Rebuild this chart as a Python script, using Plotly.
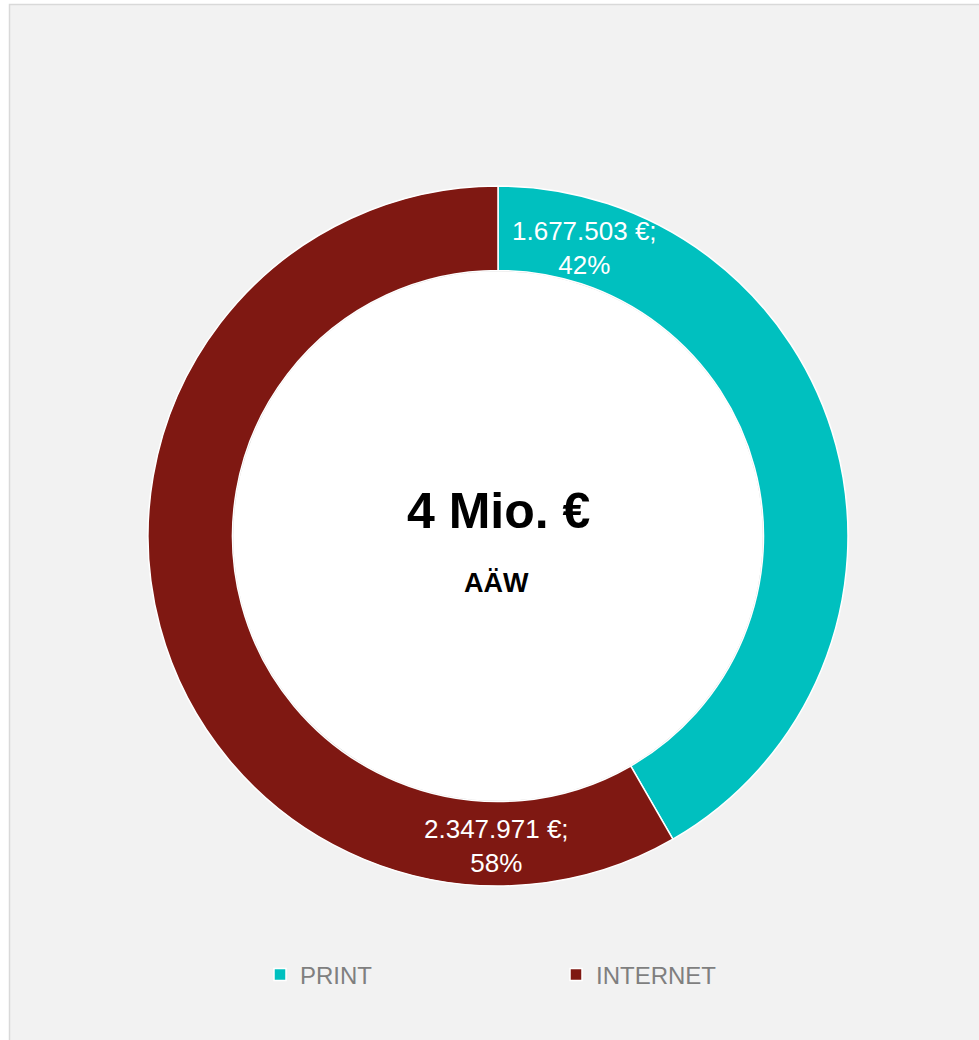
import plotly.graph_objects as go

categories = ["PRINT", "INTERNET"]
values = [1677503, 2347971]
colors = ["#00c0bf", "#7f1812"]
center_subtitle = "AÄW"

W, H = 979, 1040
FONT = "Arial, 'Liberation Sans', sans-serif"

total = sum(values)

def fmt(v):
    return f"{v:,}".replace(",", ".") + " €;"

def px(x):
    return x / W

def py(y):
    return 1 - y / H

CX, CY, R_OUT, R_IN = 498, 536, 350, 265.5

fig = go.Figure()
fig.add_trace(go.Pie(
    labels=categories,
    values=values,
    sort=False,
    direction="clockwise",
    rotation=0,
    hole=R_IN / R_OUT,
    marker=dict(colors=colors, line=dict(color="white", width=1.5)),
    textinfo="none",
    hoverinfo="skip",
    domain=dict(x=[px(CX - R_OUT), px(CX + R_OUT)], y=[py(CY + R_OUT), py(CY - R_OUT)]),
))

label_pos = [(584, 248), (496, 846)]
annotations = []
for v, (lx, ly) in zip(values, label_pos):
    pct = round(100 * v / total)
    annotations.append(dict(
        x=px(lx), y=py(ly), xref="paper", yref="paper",
        text=f"{fmt(v)}<br>{pct}%", showarrow=False,
        font=dict(family=FONT, size=26, color="white"),
        xanchor="center", yanchor="middle",
    ))
annotations.append(dict(
    x=px(498), y=py(511), xref="paper", yref="paper",
    text=f"<b>{round(total / 1e6)} Mio. €</b>", showarrow=False,
    font=dict(family=FONT, size=50, color="black"),
    xanchor="center", yanchor="middle",
))
annotations.append(dict(
    x=px(497), y=py(583), xref="paper", yref="paper",
    text=f"<b>{center_subtitle}</b>", showarrow=False,
    font=dict(family=FONT, size=27, color="black"),
    xanchor="center", yanchor="middle",
))

fig.update_layout(
    width=W, height=H,
    margin=dict(l=0, r=0, t=0, b=0),
    paper_bgcolor="white",
    plot_bgcolor="white",
    showlegend=True,
    legend=dict(
        orientation="h",
        x=px(260), y=py(975), xanchor="left", yanchor="middle",
        font=dict(family=FONT, size=24, color="#7f7f7f"),
        itemwidth=30,
        entrywidth=251,
        bgcolor="rgba(0,0,0,0)",
    ),
    annotations=annotations,
    shapes=[
        dict(
            type="rect", xref="paper", yref="paper",
            x0=px(9.5), x1=1.05, y0=-0.05, y1=py(4.5),
            fillcolor="#f2f2f2", line=dict(color="#d9d9d9", width=1.5),
            layer="below",
        ),
        dict(
            type="circle", xref="paper", yref="paper",
            x0=px(CX - R_IN), x1=px(CX + R_IN), y0=py(CY + R_IN), y1=py(CY - R_IN),
            fillcolor="white", line=dict(color="#c4c4c4", width=1.5),
            layer="below",
        ),
    ],
)

fig.write_html(
    "out.html",
    config={"displayModeBar": False},
    post_script="document.body.style.margin='0';",
)
